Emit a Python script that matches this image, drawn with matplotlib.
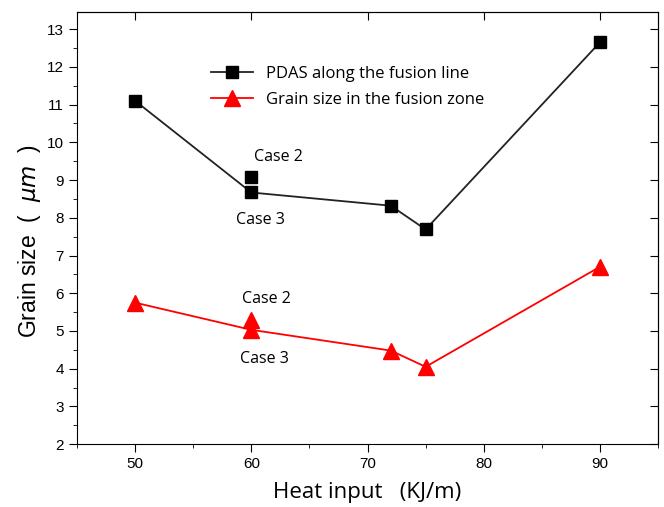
import matplotlib.pyplot as plt
from matplotlib.ticker import MultipleLocator

# Datos
heat_line = [50, 60, 72, 75, 90]
pdas_line = [11.1, 8.67, 8.32, 7.69, 12.65]
grain_line = [5.75, 5.03, 4.48, 4.05, 6.70]

# Punto "Case 2" a 60 KJ/m (fuera de la línea)
heat_case2 = [60]
pdas_case2 = [9.08]
grain_case2 = [5.30]

fig = plt.figure(figsize=(6.64, 5.07), dpi=100)
ax = fig.add_axes([0.116, 0.124, 0.875, 0.852])

ax.plot(heat_line, pdas_line, color="#222222", lw=1.3, marker="s", ms=9,
        mfc="black", mec="black", label="PDAS along the fusion line")
ax.plot(heat_case2, pdas_case2, ls="none", marker="s", ms=9, color="black")
ax.plot(heat_line, grain_line, color="red", lw=1.3, marker="^", ms=11,
        mfc="red", mec="red", label="Grain size in the fusion zone")
ax.plot(heat_case2, grain_case2, ls="none", marker="^", ms=11, color="red")

txt = dict(fontsize=11.5, family="Open Sans", ha="center", va="center")
ax.text(62.3, 9.6, "Case 2", **txt)
ax.text(60.8, 7.95, "Case 3", **txt)
ax.text(61.3, 5.85, "Case 2", **txt)
ax.text(61.1, 4.25, "Case 3", **txt)

ax.set_xlim(45, 95)
ax.set_ylim(2, 13.45)
ax.xaxis.set_major_locator(MultipleLocator(10))
ax.xaxis.set_minor_locator(MultipleLocator(5))
ax.yaxis.set_major_locator(MultipleLocator(1))
ax.yaxis.set_minor_locator(MultipleLocator(0.5))
ax.tick_params(which="major", direction="out", length=6, labelsize=11)
ax.tick_params(which="minor", direction="out", length=3)
for lab in ax.get_xticklabels() + ax.get_yticklabels():
    lab.set_family("Liberation Sans")

# ticks interiores arriba y a la derecha
top = ax.secondary_xaxis("top")
top.xaxis.set_major_locator(MultipleLocator(10))
top.tick_params(direction="in", length=6, labeltop=False)
right = ax.secondary_yaxis("right")
right.yaxis.set_major_locator(MultipleLocator(1))
right.tick_params(direction="in", length=6, labelright=False)

ax.set_xlabel("Heat input   (KJ/m)", fontsize=16, family="Open Sans", labelpad=8)
ax.set_ylabel("Grain size  (  $\\mu m$  )", fontsize=16.5, family="Liberation Sans")
ax.yaxis.set_label_coords(-0.058, 0.47)

leg = ax.legend(loc="upper left", bbox_to_anchor=(0.205, 0.91), frameon=False,
                prop={"family": "Open Sans", "size": 12}, handlelength=2.5,
                labelspacing=0.6)

fig.savefig("out.png", dpi=100)
